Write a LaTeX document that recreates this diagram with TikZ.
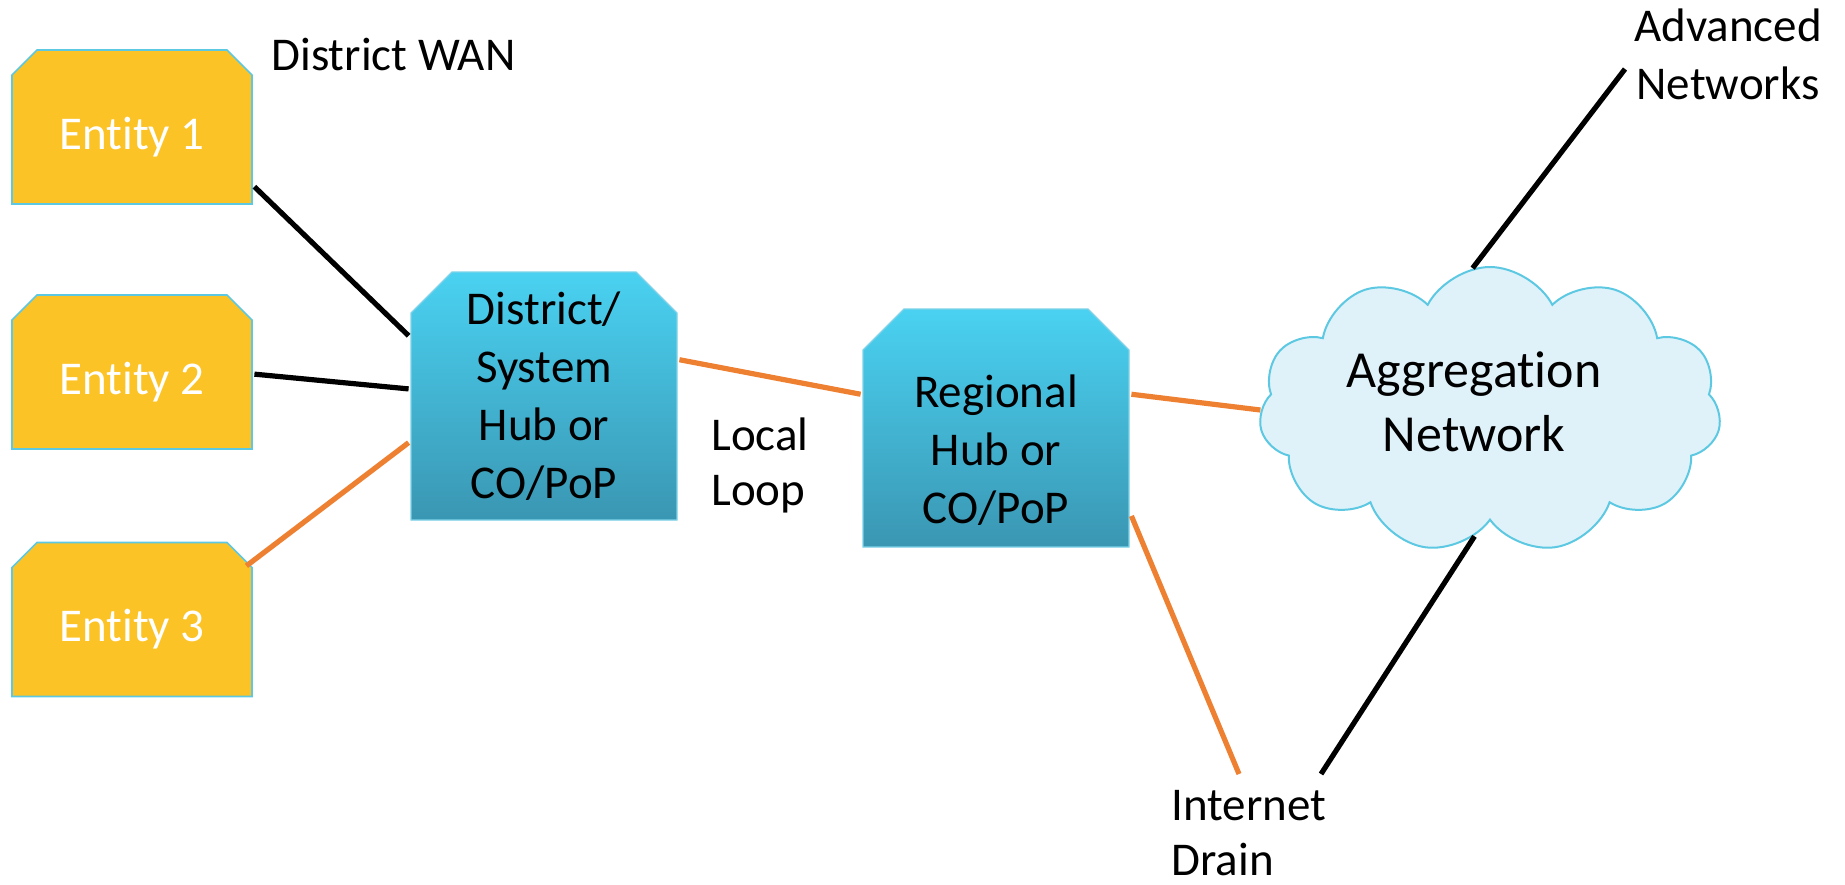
\documentclass[tikz,border=0pt]{standalone}
\usepackage{fontspec}
\setmainfont{Carlito}[Ligatures={NoCommon,NoRequired,NoContextual}]
\usetikzlibrary{shapes.symbols}
\definecolor{entyellow}{RGB}{252,195,38}
\definecolor{rimblue}{RGB}{93,200,226}
\definecolor{hubtop}{RGB}{74,210,242}
\definecolor{hubbottom}{RGB}{58,150,178}
\definecolor{hubrim}{RGB}{125,210,232}
\definecolor{cloudfill}{RGB}{223,242,249}
\definecolor{linkorange}{RGB}{238,128,50}
\newcommand*{\rimgap}{1pt}
\newcommand*{\bodyfont}{\fontsize{23.5}{29}\selectfont}
\tikzset{
  chamfer/.style 2 args={path picture={
      \path [#2]
        ([xshift=\rimgap, yshift=-\rimgap-#1]path picture bounding box.north west)
        -- ([xshift=\rimgap+#1, yshift=-\rimgap]path picture bounding box.north west)
        -- ([xshift=-\rimgap-#1, yshift=-\rimgap]path picture bounding box.north east)
        -- ([xshift=-\rimgap, yshift=-\rimgap-#1]path picture bounding box.north east)
        -- ([xshift=-\rimgap, yshift=\rimgap]path picture bounding box.south east)
        -- ([xshift=\rimgap, yshift=\rimgap]path picture bounding box.south west)
        -- cycle;}},
  entity/.style={rectangle, minimum width=122pt, minimum height=79pt, inner sep=0pt,
    chamfer={12.5pt}{fill=entyellow, draw=rimblue, line width=0.8pt},
    text=white, font=\bodyfont, text height=22pt, text depth=0pt},
  hub/.style={rectangle, minimum width=135pt, inner sep=0pt, align=center, font=\bodyfont},
  hubpaint/.style={chamfer={20.5pt}{top color=hubtop, bottom color=hubbottom, draw=hubrim, line width=0.6pt}},
  blacklink/.style={line width=2.6pt, black},
  orangelink/.style={line width=2.6pt, linkorange},
  tag/.style={inner sep=0pt, align=left, font=\bodyfont},
}
\begin{document}
\begin{tikzpicture}[x=0.5pt,y=-0.5pt]
    \useasboundingbox (0,0) rectangle (1845,884);
    % schools and offices
    \node [entity] (ent1) at (132,127) {Entity 1};
    \node [entity] (ent2) at (132,372) {Entity 2};
    \node [entity] (ent3) at (132,619.5) {Entity 3};
    % hubs
    \node [hub, hubpaint, minimum height=126pt] (dhub) at (544,396) {District/\\System\\Hub or\\CO/PoP};
    \node [hub, hubpaint, minimum height=121pt] (rhub) at (996,428) {};
    \node [hub] (rhubtxt) at (996,450) {Regional\\Hub or\\CO/PoP};
    % aggregation cloud
    \node [cloud, cloud puffs=11, cloud puff arc=125, aspect=1.6, minimum width=231pt, minimum height=143pt,
           fill=cloudfill, draw=rimblue, line width=1pt] (agg) at (1490,410) {};
    \node [tag, align=center, font=\fontsize{26}{32}\selectfont] (aggtxt) at (1474,402) {Aggregation\\Network};
    % free labels
    \node [tag, anchor=base west] (wan) at (271,70) {District WAN};
    \node [tag, align=center, font=\fontsize{23.5}{29}\selectfont] (adv) at (1728,54) {Advanced\\Networks};
    \node [tag, anchor=west, font=\fontsize{23.5}{27.5}\selectfont] (lloop) at (711,465) {Local\\Loop};
    \node [tag, anchor=west, font=\fontsize{23.5}{27.5}\selectfont] (drain) at (1171,833) {Internet\\Drain};
    \coordinate (advend) at (1625,69);
    \coordinate (drainA) at (1239,774);
    \coordinate (drainB) at (1321,774);
    % links
    \draw [blacklink] (ent1.-26) -- (dhub.156);
    \draw [blacklink] (ent2.-1) -- (dhub.177);
    \draw [orangelink, shorten <=-5pt] (ent3.26) -- (dhub.199);
    \draw [orangelink] (dhub.15) -- (rhub.166);
    \draw [orangelink] (rhub.14) -- (agg.180);
    \draw [orangelink] (rhub.-33) -- (drainA);
    \draw [blacklink] (agg.97) -- (advend);
    \draw [blacklink] (agg.-97) -- (drainB);
\end{tikzpicture}
\end{document}
